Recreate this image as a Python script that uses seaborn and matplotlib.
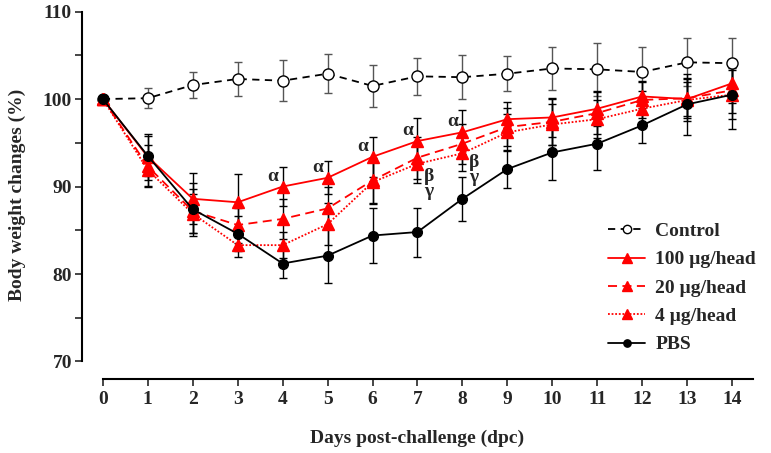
import matplotlib
matplotlib.use("Agg")
import matplotlib.pyplot as plt
from matplotlib.lines import Line2D
import numpy as np
import pandas as pd
import seaborn as sns

# data
days = list(range(15))

control = [100.0, 100.1, 101.6, 102.3, 102.1, 102.9, 101.5, 102.6, 102.5, 102.9, 103.5, 103.4, 103.1, 104.2, 104.1]
control_err = [0.0, 1.15, 1.45, 1.9, 2.35, 2.25, 2.35, 2.1, 2.5, 2.0, 2.45, 3.0, 2.85, 2.75, 2.85]

dose100 = [100.0, 93.4, 88.6, 88.2, 90.0, 91.0, 93.4, 95.2, 96.2, 97.7, 97.9, 98.9, 100.3, 100.0, 101.8]
dose100_err = [0.0, 2.6, 2.9, 3.2, 2.2, 1.9, 2.3, 2.6, 2.5, 2.0, 2.2, 2.0, 1.8, 1.9, 2.2]

dose20 = [100.0, 92.3, 87.2, 85.6, 86.3, 87.5, 90.7, 93.3, 94.9, 96.8, 97.4, 98.4, 99.9, 100.1, 101.0]
dose20_err = [0.0, 2.4, 2.5, 2.0, 2.3, 2.4, 2.6, 2.4, 2.3, 2.2, 2.6, 2.4, 2.1, 2.3, 2.6]

dose4 = [100.0, 91.9, 86.9, 83.3, 83.3, 85.7, 90.5, 92.6, 93.8, 96.2, 97.1, 97.7, 98.9, 99.9, 100.5]
dose4_err = [0.0, 1.8, 2.2, 1.4, 1.5, 2.4, 2.5, 2.2, 2.0, 2.1, 2.3, 2.2, 2.0, 2.4, 2.8]

pbs = [100.0, 93.5, 87.4, 84.6, 81.2, 82.1, 84.4, 84.8, 88.6, 92.0, 93.9, 94.9, 97.0, 99.4, 100.5]
pbs_err = [0.0, 2.3, 3.0, 2.0, 1.7, 3.1, 3.1, 2.8, 2.5, 2.2, 3.2, 3.0, 2.0, 3.5, 3.9]

alpha_days = [4, 5, 6, 7, 8]
beta_gamma_days = [7, 8]

groups = [
    ("Control", control, control_err, "black", (0, (4, 3)), "o", "white", "#555555"),
    ("100 \u00b5g/head", dose100, dose100_err, "red", "-", "^", "red", "black"),
    ("20 \u00b5g/head", dose20, dose20_err, "red", (0, (5, 3)), "^", "red", "black"),
    ("4 \u00b5g/head", dose4, dose4_err, "red", (0, (1, 1)), "^", "red", "black"),
    ("PBS", pbs, pbs_err, "black", "-", "o", "black", "black"),
]

sns.set_style("white")
plt.rcParams["font.family"] = ["Liberation Serif", "DejaVu Serif"]
plt.rcParams["font.weight"] = "bold"

fig = plt.figure(figsize=(7.71, 4.53), dpi=100)
ax = fig.add_axes([0.106, 0.1634, 0.871, 0.811])

# error bars first, lines on top
for name, vals, errs, color, ls, mk, face, ecol in groups:
    ax.errorbar(days, vals, yerr=errs, fmt="none", ecolor=ecol, elinewidth=1.0,
                capsize=3, capthick=1.0, zorder=1)

handles = []
for i, (name, vals, errs, color, ls, mk, face, ecol) in enumerate(groups):
    df = pd.DataFrame({"day": days, "value": vals})
    ms = 8 if mk == "o" else 9
    if name == "PBS":
        ms = 7
    sns.lineplot(data=df, x="day", y="value", ax=ax, color=color, linestyle=ls,
                 linewidth=1.3, marker=mk, markersize=ms, markerfacecolor=face,
                 markeredgecolor=color, markeredgewidth=1.0, zorder=2 + i)
    handles.append(Line2D([0], [0], color=color, linestyle=ls, linewidth=1.3, marker=mk,
                          markersize=ms * 0.75, markerfacecolor=face, markeredgecolor=color,
                          label=name))

# significance marks
for d in alpha_days:
    ax.text(d - 0.22, dose100[d] + 1.2, "\u03b1", ha="center", va="center", fontsize=14,
            fontweight="bold")
for d in beta_gamma_days:
    ax.text(d + 0.25, dose20[d] - 2.1, "\u03b2", ha="center", va="center", fontsize=14,
            fontweight="bold")
    ax.text(d + 0.25, dose20[d] - 3.9, "\u03b3", ha="center", va="center", fontsize=14,
            fontweight="bold")

ax.set_xlim(-0.47, 14.47)
ax.set_ylim(68, 110)
ax.set_xticks(days)
ax.set_yticks([70, 80, 90, 100, 110])
ax.set_yticks([75, 85, 95, 105], minor=True)
ax.tick_params(axis="both", which="both", direction="out", length=5, width=1.2,
               labelsize=14, left=True, bottom=True)
ax.tick_params(axis="y", which="major", pad=2)
for lab in ax.get_xticklabels() + ax.get_yticklabels():
    lab.set_fontweight("bold")

for side in ["top", "right"]:
    ax.spines[side].set_visible(False)
ax.spines["left"].set_bounds(70, 110)
ax.spines["bottom"].set_bounds(0, 14.47)
for side in ["left", "bottom"]:
    ax.spines[side].set_linewidth(1.5)
    ax.spines[side].set_color("black")

ax.set_xlabel("Days post-challenge (dpc)", fontsize=14, fontweight="bold", labelpad=16)
ax.set_ylabel("Body weight changes (%)", fontsize=14, fontweight="bold", labelpad=12)

ax.legend(handles=handles, loc="lower right", bbox_to_anchor=(1.03, 0.022), frameon=False,
          handlelength=1.9, handletextpad=0.5, labelspacing=0.55,
          prop={"weight": "bold", "size": 14})

fig.savefig("out.png", dpi=100)
